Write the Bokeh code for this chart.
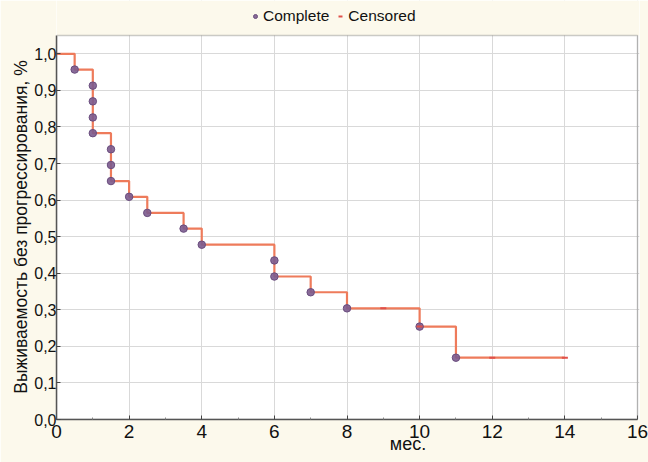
from bokeh.plotting import figure
from bokeh.models import (Range1d, Legend, LegendItem, BoxAnnotation,
                          CustomJSTickFormatter, FixedTicker)
from bokeh.embed import file_html
from bokeh.resources import INLINE

# Kaplan-Meier step curve (time in months, survival fraction)
step_time = [0, 0.5, 1, 1.5, 2, 2.5, 3.5, 4, 6, 7, 8, 10, 11, 14]
step_surv = [1.0, 0.957, 0.783, 0.652, 0.609, 0.565, 0.522, 0.478, 0.391,
             0.348, 0.304, 0.254, 0.169, 0.169]

# Complete (event) observations
complete_time = [0.5, 1, 1, 1, 1, 1.5, 1.5, 1.5, 2, 2.5, 3.5, 4, 6, 6, 7, 8, 10, 11]
complete_surv = [0.957, 0.913, 0.870, 0.826, 0.783, 0.739, 0.696, 0.652, 0.609,
                 0.565, 0.522, 0.478, 0.435, 0.391, 0.348, 0.304, 0.254, 0.169]

# Censored observations
censored_time = [9, 10, 12, 14]
censored_surv = [0.304, 0.254, 0.169, 0.169]

x_ticks = [0, 2, 4, 6, 8, 10, 12, 14, 16]
x_minor = [1, 3, 5, 7, 9, 11, 13, 15]
y_ticks = [0.0, 0.1, 0.2, 0.3, 0.4, 0.5, 0.6, 0.7, 0.8, 0.9, 1.0]
X_MAX = 16
Y_MAX = 1.05

X_LABEL = "мес."
Y_LABEL = "Выживаемость без прогрессирования, %"

FONT = "Liberation Sans"
CREAM = "#fcf9ec"
FRAME = "#555555"
NBSP = "\u00a0"

p = figure(width=648, height=462, output_backend="svg", toolbar_location=None,
           x_range=Range1d(0, 16.055), y_range=Range1d(0, 1.1458),
           min_border_left=56, min_border_right=9, min_border_top=0,
           min_border_bottom=43)
p.border_fill_color = CREAM
p.background_fill_color = "white"
p.outline_line_color = None

p.xaxis.ticker = FixedTicker(ticks=x_ticks, minor_ticks=x_minor)
p.yaxis.ticker = FixedTicker(ticks=y_ticks)
p.yaxis.formatter = CustomJSTickFormatter(code="return tick.toFixed(1).replace('.', ',');")
p.yaxis.bounds = (0, Y_MAX)
p.xaxis.bounds = (0, X_MAX)

for ax in (p.xaxis[0], p.yaxis[0]):
    ax.axis_line_color = FRAME
    ax.axis_line_width = 1.5
    ax.major_tick_in = 4
    ax.major_tick_out = 0
    ax.minor_tick_in = 2
    ax.minor_tick_out = 0
    ax.major_tick_line_color = "#444444"
    ax.minor_tick_line_color = "#888888"
    ax.major_label_text_font = FONT
    ax.major_label_text_color = "#111111"
    ax.axis_label_text_font = FONT
    ax.axis_label_text_font_style = "normal"
    ax.axis_label_text_color = "#111111"

p.xaxis.major_label_text_font_size = "19px"
p.xaxis.major_label_standoff = 5
# label sits right of centre in the original; pad with no-break spaces
p.xaxis.axis_label = NBSP * 24 + X_LABEL
p.xaxis.axis_label_text_font_size = "18px"
p.xaxis.axis_label_standoff = -7

p.yaxis.major_label_text_font_size = "16px"
p.yaxis.major_label_standoff = 0
# centre the label on the plotting box (not the header band)
p.yaxis.axis_label = Y_LABEL + NBSP * 7
p.yaxis.axis_label_text_font_size = "17.5px"
p.yaxis.axis_label_standoff = 0

p.xgrid.ticker = FixedTicker(ticks=x_ticks)
p.ygrid.ticker = FixedTicker(ticks=y_ticks)
p.grid.grid_line_color = "#d9d9d9"
p.grid.grid_line_width = 1

p.step(step_time, step_surv, mode="after", line_color="#ee7b5b", line_width=2.2)

r_comp = p.scatter(complete_time, complete_surv, marker="circle", size=7.5,
                   fill_color="#7b5b8e", line_color="#6a4d7e", fill_alpha=0.9)
r_cens = p.scatter(censored_time, censored_surv, marker="dash", size=6,
                   line_color="#e0504a", line_width=2)

# cream header band above the plotting box, and the plotting box outline
p.add_layout(BoxAnnotation(bottom=Y_MAX, fill_color=CREAM, fill_alpha=1,
                           line_alpha=0))
p.add_layout(BoxAnnotation(left=0, right=X_MAX, bottom=0, top=Y_MAX,
                           fill_alpha=0, line_color=FRAME, line_width=1.5))

legend = Legend(items=[LegendItem(label="Complete", renderers=[r_comp]),
                       LegendItem(label="Censored", renderers=[r_cens])],
                orientation="horizontal", location=(194, 394),
                background_fill_alpha=0, border_line_color=None,
                label_text_font=FONT, label_text_font_size="15.5px",
                label_text_color="#111111",
                glyph_width=10, glyph_height=16, label_height=16,
                label_standoff=3, spacing=6, padding=2, margin=0)
p.add_layout(legend)

open("out.html", "w").write(file_html(p, INLINE))
